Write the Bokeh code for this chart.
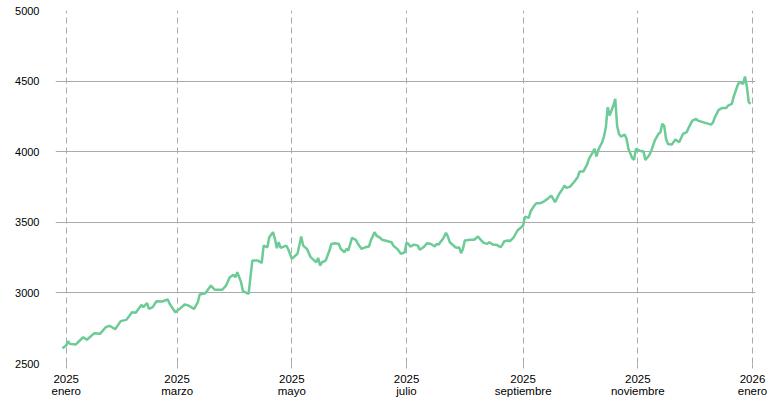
from datetime import datetime
import pandas as pd
from bokeh.plotting import figure
from bokeh.models import Range1d, FixedTicker, ColumnDataSource
from bokeh.embed import file_html
from bokeh.resources import INLINE

dates = [
    "2024-12-30", "2025-01-01", "2025-01-02", "2025-01-03", "2025-01-06", "2025-01-10", "2025-01-12",
    "2025-01-16", "2025-01-19", "2025-01-22", "2025-01-24", "2025-01-27", "2025-01-30", "2025-02-02",
    "2025-02-05", "2025-02-07", "2025-02-10", "2025-02-11", "2025-02-13", "2025-02-14", "2025-02-16",
    "2025-02-18", "2025-02-21", "2025-02-24", "2025-02-25", "2025-02-28", "2025-03-03", "2025-03-05",
    "2025-03-07", "2025-03-10", "2025-03-12", "2025-03-13", "2025-03-16", "2025-03-19", "2025-03-21",
    "2025-03-25", "2025-03-27", "2025-03-29", "2025-03-31", "2025-04-01", "2025-04-02", "2025-04-04",
    "2025-04-05", "2025-04-08", "2025-04-09", "2025-04-10", "2025-04-13", "2025-04-15", "2025-04-16",
    "2025-04-18", "2025-04-19", "2025-04-21", "2025-04-22", "2025-04-23", "2025-04-24", "2025-04-25",
    "2025-04-28", "2025-04-29", "2025-05-01", "2025-05-04", "2025-05-06", "2025-05-07", "2025-05-09",
    "2025-05-11", "2025-05-12", "2025-05-14", "2025-05-15", "2025-05-16", "2025-05-17", "2025-05-19",
    "2025-05-21", "2025-05-22", "2025-05-24", "2025-05-26", "2025-05-27", "2025-05-29", "2025-05-30",
    "2025-05-31", "2025-06-02", "2025-06-04", "2025-06-05", "2025-06-07", "2025-06-09", "2025-06-11",
    "2025-06-12", "2025-06-14", "2025-06-15", "2025-06-17", "2025-06-18", "2025-06-21", "2025-06-23",
    "2025-06-24", "2025-06-26", "2025-06-28", "2025-06-30", "2025-07-01", "2025-07-02", "2025-07-03",
    "2025-07-05", "2025-07-07", "2025-07-08", "2025-07-10", "2025-07-12", "2025-07-14", "2025-07-16",
    "2025-07-17", "2025-07-18", "2025-07-20", "2025-07-21", "2025-07-22", "2025-07-23", "2025-07-24",
    "2025-07-27", "2025-07-28", "2025-07-29", "2025-07-30", "2025-07-31", "2025-08-01", "2025-08-04",
    "2025-08-06", "2025-08-08", "2025-08-09", "2025-08-11", "2025-08-13", "2025-08-14", "2025-08-16",
    "2025-08-18", "2025-08-20", "2025-08-21", "2025-08-22", "2025-08-24", "2025-08-25", "2025-08-27",
    "2025-08-29", "2025-08-31", "2025-09-01", "2025-09-02", "2025-09-04", "2025-09-05", "2025-09-07",
    "2025-09-08", "2025-09-10", "2025-09-12", "2025-09-14", "2025-09-16", "2025-09-17", "2025-09-18",
    "2025-09-20", "2025-09-22", "2025-09-23", "2025-09-24", "2025-09-26", "2025-09-28", "2025-09-30",
    "2025-10-01", "2025-10-03", "2025-10-05", "2025-10-06", "2025-10-08", "2025-10-09", "2025-10-10",
    "2025-10-11", "2025-10-13", "2025-10-14", "2025-10-15", "2025-10-16", "2025-10-17", "2025-10-19",
    "2025-10-20", "2025-10-21", "2025-10-22", "2025-10-23", "2025-10-25", "2025-10-26", "2025-10-27",
    "2025-10-29", "2025-10-30", "2025-10-31", "2025-11-02", "2025-11-03", "2025-11-04", "2025-11-05",
    "2025-11-07", "2025-11-08", "2025-11-10", "2025-11-12", "2025-11-13", "2025-11-14", "2025-11-15",
    "2025-11-16", "2025-11-17", "2025-11-19", "2025-11-21", "2025-11-23", "2025-11-25", "2025-11-27",
    "2025-11-28", "2025-11-30", "2025-12-02", "2025-12-03", "2025-12-06", "2025-12-10", "2025-12-11",
    "2025-12-12", "2025-12-14", "2025-12-16", "2025-12-18", "2025-12-19", "2025-12-21", "2025-12-22",
    "2025-12-24", "2025-12-25", "2025-12-27", "2025-12-28", "2025-12-29", "2025-12-30", "2025-12-31",
]

values = [
    2608, 2627, 2658, 2639, 2634, 2686, 2668,
    2715, 2710, 2757, 2767, 2743, 2800, 2809,
    2863, 2859, 2915, 2899, 2927, 2887, 2899,
    2941, 2939, 2953, 2923, 2863, 2894, 2918,
    2911, 2887, 2934, 2989, 2998, 3052, 3022,
    3022, 3052, 3111, 3128, 3111, 3146, 3076,
    3012, 2993, 3111, 3229, 3229, 3213, 3335,
    3323, 3394, 3430, 3383, 3317, 3359, 3319,
    3335, 3312, 3241, 3277, 3399, 3335, 3312,
    3253, 3241, 3217, 3248, 3194, 3217, 3229,
    3300, 3347, 3352, 3347, 3312, 3288, 3312,
    3300, 3390, 3376, 3352, 3312, 3323, 3328,
    3371, 3430, 3406, 3390, 3376, 3366, 3359,
    3335, 3312, 3277, 3288, 3355, 3347, 3328,
    3342, 3335, 3305, 3323, 3352, 3347, 3328,
    3347, 3342, 3376, 3399, 3425, 3399, 3359,
    3323, 3319, 3323, 3281, 3312, 3371, 3376,
    3376, 3399, 3383, 3354, 3347, 3359, 3342,
    3340, 3323, 3342, 3366, 3371, 3366, 3394,
    3442, 3465, 3477, 3540, 3531, 3578, 3619,
    3635, 3635, 3647, 3666, 3689, 3666, 3642,
    3697, 3737, 3760, 3744, 3753, 3784, 3819,
    3859, 3859, 3909, 3949, 3996, 4020, 3966,
    4013, 4067, 4107, 4173, 4315, 4256, 4327,
    4374, 4180, 4126, 4107, 4121, 4091, 4020,
    3955, 3942, 4020, 4008, 4003, 4003, 3942,
    3973, 4001, 4079, 4126, 4138, 4197, 4185,
    4091, 4055, 4050, 4086, 4067, 4126, 4138,
    4169, 4220, 4232, 4220, 4208, 4192, 4208,
    4244, 4296, 4310, 4310, 4327, 4339, 4390,
    4468, 4492, 4480, 4532, 4460, 4350, 4340,
]

tick_dates = ["2025-01-01", "2025-03-01", "2025-05-01", "2025-07-01",
              "2025-09-01", "2025-11-01", "2026-01-01"]
tick_years = ["2025", "2025", "2025", "2025", "2025", "2025", "2026"]
tick_months = ["enero", "marzo", "mayo", "julio", "septiembre", "noviembre", "enero"]
y_ticks = [2500, 3000, 3500, 4000, 4500, 5000]

src = ColumnDataSource(dict(x=pd.to_datetime(dates), y=values))

p = figure(
    width=768, height=400,
    x_axis_type="datetime",
    x_range=Range1d(datetime(2024, 12, 26, 7, 30), datetime(2026, 1, 2, 14, 0)),
    y_range=Range1d(2500, 5000),
    output_backend="svg", toolbar_location=None,
    min_border_left=55, min_border_right=13, min_border_top=10, min_border_bottom=37,
)
p.outline_line_color = None
p.background_fill_color = "white"
p.border_fill_color = "white"

tick_ms = [float(pd.Timestamp(d).value // 10**6) for d in tick_dates]
p.xaxis.ticker = FixedTicker(ticks=tick_ms)
p.xaxis.major_label_overrides = {t: f"{yy}\n{mm}" for t, yy, mm in zip(tick_ms, tick_years, tick_months)}
p.yaxis.ticker = FixedTicker(ticks=y_ticks)

for ax in (p.xaxis[0], p.yaxis[0]):
    ax.axis_line_color = None
    ax.minor_tick_line_color = None
    ax.major_label_text_font = "Liberation Sans"
    ax.major_label_text_color = "#000000"

p.xaxis.major_tick_in = 0
p.xaxis.major_tick_out = 5
p.xaxis.major_tick_line_color = "#aaaaaa"
p.xaxis.major_label_standoff = 4
p.xaxis.major_label_text_font_size = "11.5px"
p.xaxis.major_label_text_line_height = 1.05

p.yaxis.major_tick_line_color = None
p.yaxis.major_tick_in = 0
p.yaxis.major_tick_out = 0
p.yaxis.major_label_standoff = 16
p.yaxis.major_label_text_font_size = "11px"

p.xgrid.grid_line_color = "#aaaaaa"
p.xgrid.grid_line_dash = "6 4"
p.xgrid.grid_line_width = 1
p.ygrid.grid_line_color = "#aaaaaa"
p.ygrid.grid_line_width = 1

p.line("x", "y", source=src, line_color="#6ccb96", line_width=2.5)

open("out.html", "w").write(file_html(p, INLINE))
